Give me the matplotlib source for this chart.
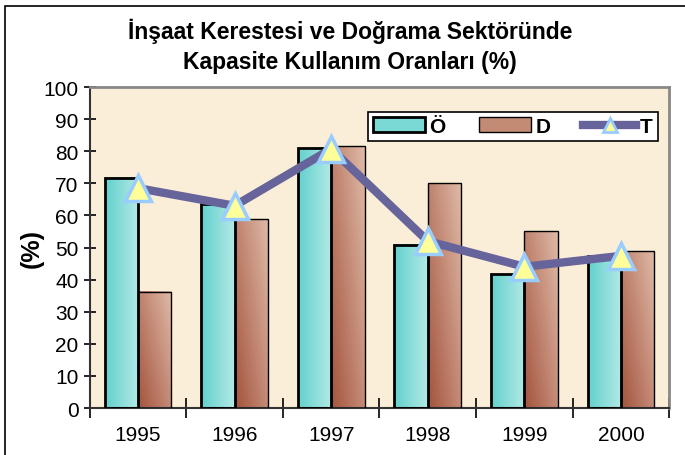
import numpy as np
import matplotlib
matplotlib.use("Agg")
import matplotlib.pyplot as plt
from matplotlib.colors import LinearSegmentedColormap
from matplotlib.patches import Rectangle
from matplotlib.lines import Line2D

plt.rcParams['font.family'] = ['Liberation Sans', 'DejaVu Sans']

years = ['1995', '1996', '1997', '1998', '1999', '2000']
o_vals = [71.7, 63.5, 80.9, 50.9, 41.7, 47.3]
d_vals = [36.2, 58.8, 81.5, 70.0, 55.0, 48.8]
t_vals = [68.5, 63.0, 80.7, 52.0, 44.0, 47.4]

title_1 = "İnşaat Kerestesi ve Doğrama Sektöründe"
title_2 = "Kapasite Kullanım Oranları (%)"

teal_cmap = LinearSegmentedColormap.from_list("teal", ["#62d1cd", "#b3e9e6"])
brown_cmap = LinearSegmentedColormap.from_list("brown", ["#a4533d", "#dfbba8"])

fig = plt.figure(figsize=(6.85, 4.56), dpi=100)
fig.patch.set_facecolor("white")
fig.patches.append(Rectangle((5 / 685, -0.1), 1.2, 1.1 - 7 / 456, transform=fig.transFigure,
                             fill=False, edgecolor="black", linewidth=1.2))
ax = fig.add_axes([0.131, 0.103, 0.846, 0.704])
ax.set_facecolor("#fbeed8")

x = np.arange(len(years))
w = 0.345


def grad_bar(ax, x0, h, cmap, diag=False):
    n = 64
    if diag:
        gx, gy = np.meshgrid(np.linspace(0, 1, n), np.linspace(0, 1, n))
        img = 0.55 * gx + 0.45 * gy
    else:
        img = np.tile(np.linspace(0, 1, n), (n, 1))
    ax.imshow(img, cmap=cmap, extent=[x0, x0 + w, 0, h], origin="lower",
              aspect="auto", zorder=2, interpolation="bilinear")


for i in range(len(years)):
    grad_bar(ax, x[i] - w, o_vals[i], teal_cmap)
    grad_bar(ax, x[i], d_vals[i], brown_cmap, diag=True)

ax.bar(x - w / 2, o_vals, w, facecolor="none", edgecolor="black", linewidth=2, zorder=3)
ax.bar(x + w / 2, d_vals, w, facecolor="none", edgecolor="black", linewidth=1, zorder=3)

ax.plot(x, t_vals, color="#66649a", linewidth=6, solid_capstyle="round", zorder=4)
ax.plot(x, t_vals, linestyle="none", marker="^", markersize=19,
        markerfacecolor="#ffff99", markeredgecolor="#99ccff", markeredgewidth=2.5, zorder=5)

ax.set_xlim(-0.5, len(years) - 0.5)
ax.set_ylim(0, 100)
ax.set_yticks(np.arange(0, 101, 10))
ax.set_xticks(x)
ax.set_xticklabels(years)
ax.set_xticks(np.arange(-0.5, len(years), 1), minor=True)
ax.tick_params(axis="x", which="major", length=0, labelsize=15, pad=12)
ax.tick_params(axis="x", which="minor", length=14, direction="inout", width=1.2)
ax.tick_params(axis="y", labelsize=15, length=8, width=1.2, direction="inout", pad=4)

for side in ["left", "bottom"]:
    ax.spines[side].set_linewidth(1.5)
    ax.spines[side].set_color("#333333")
for side in ["top", "right"]:
    ax.spines[side].set_linewidth(2)
    ax.spines[side].set_color("#888888")

ax.set_ylabel("(%)", fontsize=18, fontweight="bold", labelpad=0)
fig.text(0.511, 1 - 31 / 456, title_1, ha="center", va="center", fontsize=16.5, fontweight="bold")
fig.text(0.511, 1 - 62 / 456, title_2, ha="center", va="center", fontsize=16.5, fontweight="bold")

handles = [
    Rectangle((0, 0), 1, 1, facecolor="#7ad9d5", edgecolor="black", linewidth=2),
    Rectangle((0, 0), 1, 1, facecolor="#c48b74", edgecolor="black", linewidth=1),
    Line2D([0], [0], color="#66649a", linewidth=6, marker="^", markersize=10,
           markerfacecolor="#ffff99", markeredgecolor="#99ccff", markeredgewidth=2),
]
leg = ax.legend(handles, ["Ö", "D", "T"], loc="upper right", ncol=3,
                bbox_to_anchor=(0.998, 0.955), frameon=True, fancybox=False,
                edgecolor="black", facecolor="white", framealpha=1,
                prop={"weight": "bold", "size": 15}, handlelength=2.5,
                handleheight=0.7, columnspacing=1.6, handletextpad=0.2,
                borderpad=0.25)
leg.get_frame().set_linewidth(1.2)
leg.set_zorder(6)

fig.savefig("out.png", dpi=100)
